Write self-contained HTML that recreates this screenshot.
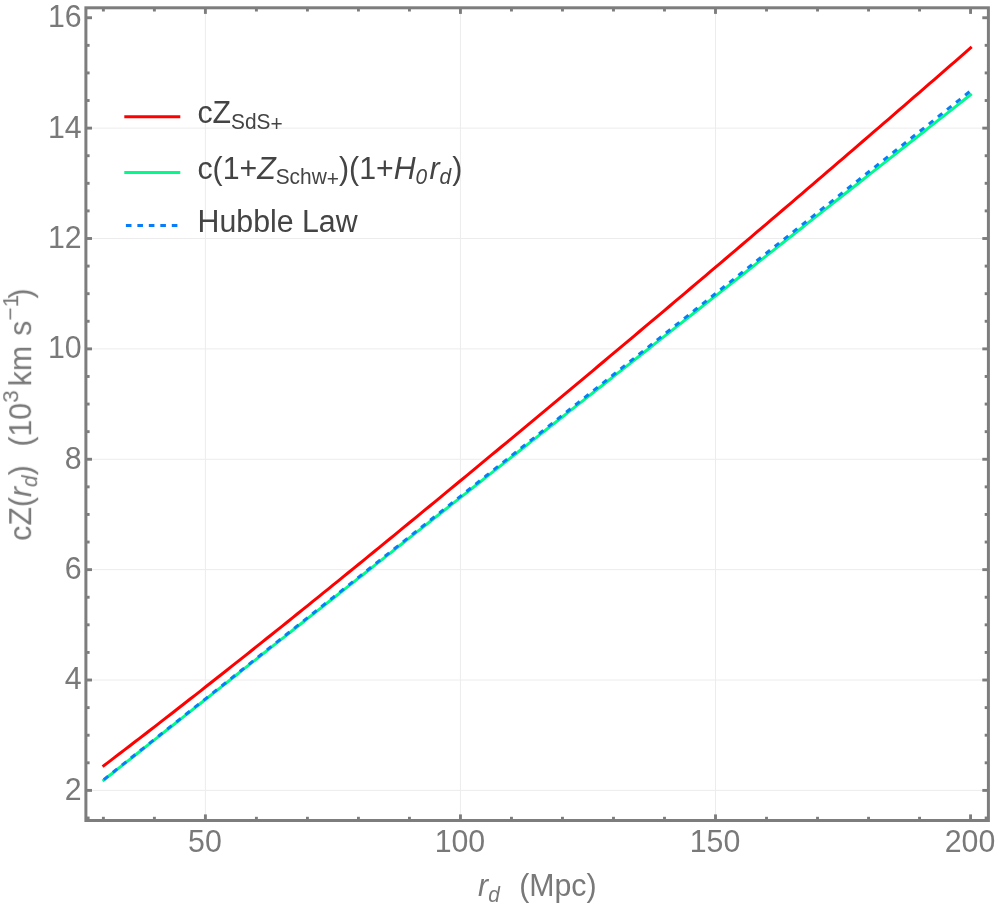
<!DOCTYPE html>
<html><head><meta charset="utf-8"><title>plot</title>
<style>html,body{margin:0;padding:0;background:#fff;}svg{display:block;}text{font-family:"Liberation Sans",sans-serif;}</style></head><body>
<svg width="996" height="908" viewBox="0 0 996 908">
<rect x="0" y="0" width="996" height="908" fill="#ffffff"/>
<g stroke="#ececec" stroke-width="1" fill="none">
<line x1="205.40" y1="7.80" x2="205.40" y2="820.50"/>
<line x1="460.45" y1="7.80" x2="460.45" y2="820.50"/>
<line x1="715.50" y1="7.80" x2="715.50" y2="820.50"/>
<line x1="85.90" y1="790.40" x2="988.40" y2="790.40"/>
<line x1="85.90" y1="680.02" x2="988.40" y2="680.02"/>
<line x1="85.90" y1="569.64" x2="988.40" y2="569.64"/>
<line x1="85.90" y1="459.26" x2="988.40" y2="459.26"/>
<line x1="85.90" y1="348.88" x2="988.40" y2="348.88"/>
<line x1="85.90" y1="238.50" x2="988.40" y2="238.50"/>
<line x1="85.90" y1="128.12" x2="988.40" y2="128.12"/>
</g>
<path d="M103.79,765.70 L108.89,761.82 L113.99,757.93 L119.08,754.04 L124.18,750.13 L129.28,746.23 L134.38,742.31 L139.48,738.39 L144.58,734.46 L149.68,730.52 L154.77,726.58 L159.87,722.63 L164.97,718.68 L170.07,714.71 L175.17,710.74 L180.27,706.77 L185.37,702.79 L190.46,698.80 L195.56,694.81 L200.66,690.81 L205.76,686.80 L210.86,682.79 L215.96,678.77 L221.06,674.75 L226.15,670.72 L231.25,666.69 L236.35,662.65 L241.45,658.60 L246.55,654.55 L251.65,650.49 L256.75,646.43 L261.84,642.37 L266.94,638.29 L272.04,634.22 L277.14,630.14 L282.24,626.05 L287.34,621.96 L292.44,617.86 L297.53,613.76 L302.63,609.66 L307.73,605.55 L312.83,601.43 L317.93,597.31 L323.03,593.19 L328.13,589.06 L333.23,584.93 L338.32,580.80 L343.42,576.66 L348.52,572.52 L353.62,568.37 L358.72,564.22 L363.82,560.06 L368.92,555.91 L374.01,551.74 L379.11,547.58 L384.21,543.41 L389.31,539.24 L394.41,535.07 L399.51,530.89 L404.61,526.71 L409.70,522.52 L414.80,518.33 L419.90,514.14 L425.00,509.95 L430.10,505.76 L435.20,501.56 L440.30,497.36 L445.39,493.15 L450.49,488.95 L455.59,484.74 L460.69,480.53 L465.79,476.32 L470.89,472.10 L475.99,467.89 L481.08,463.67 L486.18,459.45 L491.28,455.22 L496.38,451.00 L501.48,446.77 L506.58,442.54 L511.68,438.31 L516.77,434.07 L521.87,429.83 L526.97,425.59 L532.07,421.35 L537.17,417.11 L542.27,412.86 L547.37,408.62 L552.46,404.37 L557.56,400.11 L562.66,395.86 L567.76,391.60 L572.86,387.34 L577.96,383.08 L583.06,378.82 L588.16,374.55 L593.25,370.28 L598.35,366.01 L603.45,361.74 L608.55,357.46 L613.65,353.18 L618.75,348.90 L623.85,344.62 L628.94,340.34 L634.04,336.05 L639.14,331.76 L644.24,327.47 L649.34,323.18 L654.44,318.88 L659.54,314.58 L664.63,310.28 L669.73,305.98 L674.83,301.68 L679.93,297.37 L685.03,293.06 L690.13,288.75 L695.23,284.43 L700.32,280.12 L705.42,275.80 L710.52,271.48 L715.62,267.15 L720.72,262.83 L725.82,258.50 L730.92,254.17 L736.01,249.84 L741.11,245.50 L746.21,241.16 L751.31,236.82 L756.41,232.48 L761.51,228.14 L766.61,223.79 L771.70,219.44 L776.80,215.09 L781.90,210.74 L787.00,206.38 L792.10,202.02 L797.20,197.66 L802.30,193.30 L807.39,188.93 L812.49,184.56 L817.59,180.19 L822.69,175.82 L827.79,171.45 L832.89,167.07 L837.99,162.69 L843.09,158.31 L848.18,153.92 L853.28,149.54 L858.38,145.15 L863.48,140.76 L868.58,136.36 L873.68,131.97 L878.78,127.57 L883.87,123.17 L888.97,118.76 L894.07,114.36 L899.17,109.95 L904.27,105.54 L909.37,101.13 L914.47,96.71 L919.56,92.29 L924.66,87.87 L929.76,83.45 L934.86,79.03 L939.96,74.60 L945.06,70.17 L950.16,65.74 L955.25,61.30 L960.35,56.87 L965.45,52.43 L970.55,47.98" fill="none" stroke="#ff0000" stroke-width="3" stroke-linecap="square" stroke-linejoin="round"/>
<path d="M103.79,780.06 L108.89,776.02 L113.99,771.98 L119.08,767.93 L124.18,763.89 L129.28,759.84 L134.38,755.80 L139.48,751.76 L144.58,747.72 L149.68,743.67 L154.77,739.63 L159.87,735.59 L164.97,731.54 L170.07,727.50 L175.17,723.46 L180.27,719.42 L185.37,715.38 L190.46,711.34 L195.56,707.29 L200.66,703.25 L205.76,699.21 L210.86,695.17 L215.96,691.13 L221.06,687.09 L226.15,683.05 L231.25,679.01 L236.35,674.97 L241.45,670.93 L246.55,666.89 L251.65,662.85 L256.75,658.81 L261.84,654.77 L266.94,650.73 L272.04,646.69 L277.14,642.65 L282.24,638.61 L287.34,634.57 L292.44,630.54 L297.53,626.50 L302.63,622.46 L307.73,618.42 L312.83,614.38 L317.93,610.34 L323.03,606.31 L328.13,602.27 L333.23,598.23 L338.32,594.20 L343.42,590.16 L348.52,586.12 L353.62,582.08 L358.72,578.05 L363.82,574.01 L368.92,569.98 L374.01,565.94 L379.11,561.90 L384.21,557.87 L389.31,553.83 L394.41,549.80 L399.51,545.76 L404.61,541.73 L409.70,537.69 L414.80,533.66 L419.90,529.62 L425.00,525.59 L430.10,521.55 L435.20,517.52 L440.30,513.48 L445.39,509.45 L450.49,505.42 L455.59,501.38 L460.69,497.35 L465.79,493.32 L470.89,489.28 L475.99,485.25 L481.08,481.22 L486.18,477.18 L491.28,473.15 L496.38,469.12 L501.48,465.09 L506.58,461.06 L511.68,457.02 L516.77,452.99 L521.87,448.96 L526.97,444.93 L532.07,440.90 L537.17,436.87 L542.27,432.84 L547.37,428.80 L552.46,424.77 L557.56,420.74 L562.66,416.71 L567.76,412.68 L572.86,408.65 L577.96,404.62 L583.06,400.59 L588.16,396.56 L593.25,392.53 L598.35,388.51 L603.45,384.48 L608.55,380.45 L613.65,376.42 L618.75,372.39 L623.85,368.36 L628.94,364.33 L634.04,360.30 L639.14,356.28 L644.24,352.25 L649.34,348.22 L654.44,344.19 L659.54,340.17 L664.63,336.14 L669.73,332.11 L674.83,328.08 L679.93,324.06 L685.03,320.03 L690.13,316.00 L695.23,311.98 L700.32,307.95 L705.42,303.93 L710.52,299.90 L715.62,295.87 L720.72,291.85 L725.82,287.82 L730.92,283.80 L736.01,279.77 L741.11,275.75 L746.21,271.72 L751.31,267.70 L756.41,263.67 L761.51,259.65 L766.61,255.63 L771.70,251.60 L776.80,247.58 L781.90,243.55 L787.00,239.53 L792.10,235.51 L797.20,231.48 L802.30,227.46 L807.39,223.44 L812.49,219.42 L817.59,215.39 L822.69,211.37 L827.79,207.35 L832.89,203.33 L837.99,199.30 L843.09,195.28 L848.18,191.26 L853.28,187.24 L858.38,183.22 L863.48,179.20 L868.58,175.17 L873.68,171.15 L878.78,167.13 L883.87,163.11 L888.97,159.09 L894.07,155.07 L899.17,151.05 L904.27,147.03 L909.37,143.01 L914.47,138.99 L919.56,134.97 L924.66,130.95 L929.76,126.93 L934.86,122.91 L939.96,118.90 L945.06,114.88 L950.16,110.86 L955.25,106.84 L960.35,102.82 L965.45,98.80 L970.55,94.79" fill="none" stroke="#00fa8c" stroke-width="3" stroke-linecap="square" stroke-linejoin="round"/>
<path d="M103.79,779.60 L108.89,775.54 L113.99,771.49 L119.08,767.44 L124.18,763.39 L129.28,759.34 L134.38,755.29 L139.48,751.24 L144.58,747.19 L149.68,743.14 L154.77,739.09 L159.87,735.04 L164.97,730.99 L170.07,726.94 L175.17,722.89 L180.27,718.83 L185.37,714.78 L190.46,710.73 L195.56,706.68 L200.66,702.63 L205.76,698.58 L210.86,694.53 L215.96,690.48 L221.06,686.43 L226.15,682.38 L231.25,678.33 L236.35,674.28 L241.45,670.23 L246.55,666.18 L251.65,662.13 L256.75,658.07 L261.84,654.02 L266.94,649.97 L272.04,645.92 L277.14,641.87 L282.24,637.82 L287.34,633.77 L292.44,629.72 L297.53,625.67 L302.63,621.62 L307.73,617.57 L312.83,613.52 L317.93,609.47 L323.03,605.42 L328.13,601.36 L333.23,597.31 L338.32,593.26 L343.42,589.21 L348.52,585.16 L353.62,581.11 L358.72,577.06 L363.82,573.01 L368.92,568.96 L374.01,564.91 L379.11,560.86 L384.21,556.81 L389.31,552.76 L394.41,548.71 L399.51,544.65 L404.61,540.60 L409.70,536.55 L414.80,532.50 L419.90,528.45 L425.00,524.40 L430.10,520.35 L435.20,516.30 L440.30,512.25 L445.39,508.20 L450.49,504.15 L455.59,500.10 L460.69,496.05 L465.79,492.00 L470.89,487.95 L475.99,483.89 L481.08,479.84 L486.18,475.79 L491.28,471.74 L496.38,467.69 L501.48,463.64 L506.58,459.59 L511.68,455.54 L516.77,451.49 L521.87,447.44 L526.97,443.39 L532.07,439.34 L537.17,435.29 L542.27,431.24 L547.37,427.18 L552.46,423.13 L557.56,419.08 L562.66,415.03 L567.76,410.98 L572.86,406.93 L577.96,402.88 L583.06,398.83 L588.16,394.78 L593.25,390.73 L598.35,386.68 L603.45,382.63 L608.55,378.58 L613.65,374.53 L618.75,370.48 L623.85,366.42 L628.94,362.37 L634.04,358.32 L639.14,354.27 L644.24,350.22 L649.34,346.17 L654.44,342.12 L659.54,338.07 L664.63,334.02 L669.73,329.97 L674.83,325.92 L679.93,321.87 L685.03,317.82 L690.13,313.77 L695.23,309.71 L700.32,305.66 L705.42,301.61 L710.52,297.56 L715.62,293.51 L720.72,289.46 L725.82,285.41 L730.92,281.36 L736.01,277.31 L741.11,273.26 L746.21,269.21 L751.31,265.16 L756.41,261.11 L761.51,257.06 L766.61,253.00 L771.70,248.95 L776.80,244.90 L781.90,240.85 L787.00,236.80 L792.10,232.75 L797.20,228.70 L802.30,224.65 L807.39,220.60 L812.49,216.55 L817.59,212.50 L822.69,208.45 L827.79,204.40 L832.89,200.35 L837.99,196.30 L843.09,192.24 L848.18,188.19 L853.28,184.14 L858.38,180.09 L863.48,176.04 L868.58,171.99 L873.68,167.94 L878.78,163.89 L883.87,159.84 L888.97,155.79 L894.07,151.74 L899.17,147.69 L904.27,143.64 L909.37,139.59 L914.47,135.53 L919.56,131.48 L924.66,127.43 L929.76,123.38 L934.86,119.33 L939.96,115.28 L945.06,111.23 L950.16,107.18 L955.25,103.13 L960.35,99.08 L965.45,95.03 L970.55,90.98" fill="none" stroke="#087df8" stroke-width="3" stroke-dasharray="5.6 5.98"/>
<g stroke="#7d7d7d" stroke-width="2.9" fill="none">
<line x1="103.38" y1="820.50" x2="103.38" y2="816.80"/>
<line x1="103.38" y1="7.80" x2="103.38" y2="11.50"/>
<line x1="154.39" y1="820.50" x2="154.39" y2="816.80"/>
<line x1="154.39" y1="7.80" x2="154.39" y2="11.50"/>
<line x1="205.40" y1="820.50" x2="205.40" y2="814.40"/>
<line x1="205.40" y1="7.80" x2="205.40" y2="13.90"/>
<line x1="256.41" y1="820.50" x2="256.41" y2="816.80"/>
<line x1="256.41" y1="7.80" x2="256.41" y2="11.50"/>
<line x1="307.42" y1="820.50" x2="307.42" y2="816.80"/>
<line x1="307.42" y1="7.80" x2="307.42" y2="11.50"/>
<line x1="358.43" y1="820.50" x2="358.43" y2="816.80"/>
<line x1="358.43" y1="7.80" x2="358.43" y2="11.50"/>
<line x1="409.44" y1="820.50" x2="409.44" y2="816.80"/>
<line x1="409.44" y1="7.80" x2="409.44" y2="11.50"/>
<line x1="460.45" y1="820.50" x2="460.45" y2="814.40"/>
<line x1="460.45" y1="7.80" x2="460.45" y2="13.90"/>
<line x1="511.46" y1="820.50" x2="511.46" y2="816.80"/>
<line x1="511.46" y1="7.80" x2="511.46" y2="11.50"/>
<line x1="562.47" y1="820.50" x2="562.47" y2="816.80"/>
<line x1="562.47" y1="7.80" x2="562.47" y2="11.50"/>
<line x1="613.48" y1="820.50" x2="613.48" y2="816.80"/>
<line x1="613.48" y1="7.80" x2="613.48" y2="11.50"/>
<line x1="664.49" y1="820.50" x2="664.49" y2="816.80"/>
<line x1="664.49" y1="7.80" x2="664.49" y2="11.50"/>
<line x1="715.50" y1="820.50" x2="715.50" y2="814.40"/>
<line x1="715.50" y1="7.80" x2="715.50" y2="13.90"/>
<line x1="766.51" y1="820.50" x2="766.51" y2="816.80"/>
<line x1="766.51" y1="7.80" x2="766.51" y2="11.50"/>
<line x1="817.52" y1="820.50" x2="817.52" y2="816.80"/>
<line x1="817.52" y1="7.80" x2="817.52" y2="11.50"/>
<line x1="868.53" y1="820.50" x2="868.53" y2="816.80"/>
<line x1="868.53" y1="7.80" x2="868.53" y2="11.50"/>
<line x1="919.54" y1="820.50" x2="919.54" y2="816.80"/>
<line x1="919.54" y1="7.80" x2="919.54" y2="11.50"/>
<line x1="970.55" y1="820.50" x2="970.55" y2="814.40"/>
<line x1="970.55" y1="7.80" x2="970.55" y2="13.90"/>
<line x1="85.90" y1="818.00" x2="89.60" y2="818.00"/>
<line x1="988.40" y1="818.00" x2="984.70" y2="818.00"/>
<line x1="85.90" y1="790.40" x2="92.00" y2="790.40"/>
<line x1="988.40" y1="790.40" x2="982.30" y2="790.40"/>
<line x1="85.90" y1="762.80" x2="89.60" y2="762.80"/>
<line x1="988.40" y1="762.80" x2="984.70" y2="762.80"/>
<line x1="85.90" y1="735.21" x2="89.60" y2="735.21"/>
<line x1="988.40" y1="735.21" x2="984.70" y2="735.21"/>
<line x1="85.90" y1="707.62" x2="89.60" y2="707.62"/>
<line x1="988.40" y1="707.62" x2="984.70" y2="707.62"/>
<line x1="85.90" y1="680.02" x2="92.00" y2="680.02"/>
<line x1="988.40" y1="680.02" x2="982.30" y2="680.02"/>
<line x1="85.90" y1="652.42" x2="89.60" y2="652.42"/>
<line x1="988.40" y1="652.42" x2="984.70" y2="652.42"/>
<line x1="85.90" y1="624.83" x2="89.60" y2="624.83"/>
<line x1="988.40" y1="624.83" x2="984.70" y2="624.83"/>
<line x1="85.90" y1="597.24" x2="89.60" y2="597.24"/>
<line x1="988.40" y1="597.24" x2="984.70" y2="597.24"/>
<line x1="85.90" y1="569.64" x2="92.00" y2="569.64"/>
<line x1="988.40" y1="569.64" x2="982.30" y2="569.64"/>
<line x1="85.90" y1="542.04" x2="89.60" y2="542.04"/>
<line x1="988.40" y1="542.04" x2="984.70" y2="542.04"/>
<line x1="85.90" y1="514.45" x2="89.60" y2="514.45"/>
<line x1="988.40" y1="514.45" x2="984.70" y2="514.45"/>
<line x1="85.90" y1="486.86" x2="89.60" y2="486.86"/>
<line x1="988.40" y1="486.86" x2="984.70" y2="486.86"/>
<line x1="85.90" y1="459.26" x2="92.00" y2="459.26"/>
<line x1="988.40" y1="459.26" x2="982.30" y2="459.26"/>
<line x1="85.90" y1="431.66" x2="89.60" y2="431.66"/>
<line x1="988.40" y1="431.66" x2="984.70" y2="431.66"/>
<line x1="85.90" y1="404.07" x2="89.60" y2="404.07"/>
<line x1="988.40" y1="404.07" x2="984.70" y2="404.07"/>
<line x1="85.90" y1="376.48" x2="89.60" y2="376.48"/>
<line x1="988.40" y1="376.48" x2="984.70" y2="376.48"/>
<line x1="85.90" y1="348.88" x2="92.00" y2="348.88"/>
<line x1="988.40" y1="348.88" x2="982.30" y2="348.88"/>
<line x1="85.90" y1="321.28" x2="89.60" y2="321.28"/>
<line x1="988.40" y1="321.28" x2="984.70" y2="321.28"/>
<line x1="85.90" y1="293.69" x2="89.60" y2="293.69"/>
<line x1="988.40" y1="293.69" x2="984.70" y2="293.69"/>
<line x1="85.90" y1="266.10" x2="89.60" y2="266.10"/>
<line x1="988.40" y1="266.10" x2="984.70" y2="266.10"/>
<line x1="85.90" y1="238.50" x2="92.00" y2="238.50"/>
<line x1="988.40" y1="238.50" x2="982.30" y2="238.50"/>
<line x1="85.90" y1="210.90" x2="89.60" y2="210.90"/>
<line x1="988.40" y1="210.90" x2="984.70" y2="210.90"/>
<line x1="85.90" y1="183.31" x2="89.60" y2="183.31"/>
<line x1="988.40" y1="183.31" x2="984.70" y2="183.31"/>
<line x1="85.90" y1="155.72" x2="89.60" y2="155.72"/>
<line x1="988.40" y1="155.72" x2="984.70" y2="155.72"/>
<line x1="85.90" y1="128.12" x2="92.00" y2="128.12"/>
<line x1="988.40" y1="128.12" x2="982.30" y2="128.12"/>
<line x1="85.90" y1="100.52" x2="89.60" y2="100.52"/>
<line x1="988.40" y1="100.52" x2="984.70" y2="100.52"/>
<line x1="85.90" y1="72.93" x2="89.60" y2="72.93"/>
<line x1="988.40" y1="72.93" x2="984.70" y2="72.93"/>
<line x1="85.90" y1="45.34" x2="89.60" y2="45.34"/>
<line x1="988.40" y1="45.34" x2="984.70" y2="45.34"/>
<line x1="85.90" y1="17.74" x2="92.00" y2="17.74"/>
<line x1="988.40" y1="17.74" x2="982.30" y2="17.74"/>
</g>
<rect x="85.90" y="7.80" width="902.50" height="812.70" fill="none" stroke="#7d7d7d" stroke-width="3.0"/>
<g fill="#797979" font-size="30.3px" style="opacity:0.999">
<text transform="translate(204.90,852.1) scale(1,1.012)" text-anchor="middle">50</text>
<text transform="translate(459.95,852.1) scale(1,1.012)" text-anchor="middle">100</text>
<text transform="translate(715.00,852.1) scale(1,1.012)" text-anchor="middle">150</text>
<text transform="translate(970.05,852.1) scale(1,1.012)" text-anchor="middle">200</text>
<text transform="translate(81.7,799.85) scale(1,1.012)" text-anchor="end">2</text>
<text transform="translate(81.7,689.47) scale(1,1.012)" text-anchor="end">4</text>
<text transform="translate(81.7,579.09) scale(1,1.012)" text-anchor="end">6</text>
<text transform="translate(81.7,468.71) scale(1,1.012)" text-anchor="end">8</text>
<text transform="translate(81.7,358.33) scale(1,1.012)" text-anchor="end">10</text>
<text transform="translate(81.7,247.95) scale(1,1.012)" text-anchor="end">12</text>
<text transform="translate(81.7,137.57) scale(1,1.012)" text-anchor="end">14</text>
<text transform="translate(81.7,27.19) scale(1,1.012)" text-anchor="end">16</text>
<text transform="translate(478.1,895.9) scale(1,1.012)" ><tspan font-style="italic">r</tspan><tspan font-style="italic" font-size="20.91px" dy="5.53">d</tspan><tspan dy="-5.53" dx="2.5" xml:space="preserve">  (Mpc)</tspan></text>
<text transform="translate(31.6,540.8) rotate(-90) scale(1,1.012)" >cZ(<tspan font-style="italic">r</tspan><tspan font-style="italic" font-size="20.91px" dy="5.53">d</tspan><tspan dy="-5.53" xml:space="preserve">)  </tspan><tspan dx="1.8">(10</tspan><tspan font-size="22.57px" dy="-13.44">3</tspan><tspan dy="13.44" dx="-4.4" xml:space="preserve"> km</tspan><tspan dx="1.8" xml:space="preserve"> s</tspan><tspan font-size="22.57px" dy="-13.44">−1</tspan><tspan dy="13.44" dx="-3.8">)</tspan></text>
</g>
<line x1="124.3" y1="116.7" x2="180.3" y2="116.7" stroke="#ff0000" stroke-width="3"/>
<line x1="124.3" y1="172.4" x2="180.3" y2="172.4" stroke="#00fa8c" stroke-width="3"/>
<line x1="125.9" y1="225.5" x2="178.5" y2="225.5" stroke="#087df8" stroke-width="3" stroke-dasharray="5.6 5.87"/>
<g fill="#444444" font-size="30.3px" style="opacity:0.999">
<text transform="translate(197.4,122.9) scale(1,1.012)" >cZ<tspan font-size="20.91px" dy="5.73">SdS</tspan><tspan font-size="20.91px" dy="1.78">+</tspan></text>
<text transform="translate(197.4,178.6) scale(1,1.012)" >c(1+<tspan font-style="italic">Z</tspan><tspan font-size="20.91px" dy="5.73">Schw</tspan><tspan font-size="20.91px" dy="1.78">+</tspan><tspan dy="-7.51">)(1+</tspan><tspan font-style="italic">H</tspan><tspan font-size="20.91px" dy="5.73" font-style="italic">0</tspan><tspan dy="-5.73" dx="2.2" font-style="italic">r</tspan><tspan font-size="20.91px" dy="5.73" font-style="italic">d</tspan><tspan dy="-5.73" dx="1.2">)</tspan></text>
<text transform="translate(197.6,232.0) scale(1,1.012)" >Hubble Law</text>
</g>
</svg></body></html>
